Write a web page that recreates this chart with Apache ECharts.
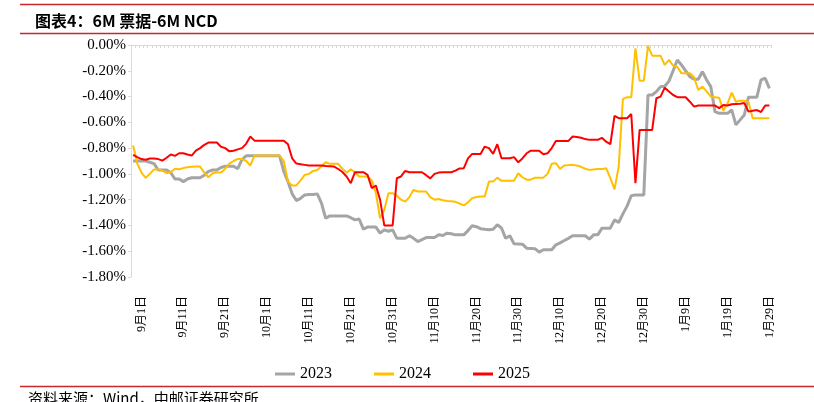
<!DOCTYPE html>
<html><head><meta charset="utf-8">
<script src="https://cdn.jsdelivr.net/npm/echarts@6/dist/echarts.min.js"></script>
<style>html,body{margin:0;padding:0;background:#fff}#c{width:814px;height:402px}</style>
</head><body><div id="c"></div>
<script>
// Categories: daily dates from 8月30日 to 1月29日
const firstDate = { month: 8, day: 30 };
const dayCount = 153;
const categories = [];
for (let i = 0; i < dayCount; i++) {
  const d = new Date(2023, firstDate.month - 1, firstDate.day + i);
  categories.push((d.getMonth() + 1) + '月' + d.getDate() + '日');
}
const seriesNames = ['2023', '2024', '2025'];
const yTickMin = -1.8, yTickMax = 0, yTickStep = 0.2;

const values2023 = [
-0.90,-0.90,-0.90,-0.90,-0.91,-0.92,-0.97,-0.97,-0.97,-0.99,
-1.04,-1.04,-1.06,-1.04,-1.03,-1.03,-1.03,-1.01,-0.98,-0.97,
-0.97,-0.95,-0.94,-0.94,-0.94,-0.96,-0.89,-0.86,-0.86,-0.86,
-0.86,-0.86,-0.86,-0.86,-0.86,-0.86,-0.98,-1.06,-1.155,-1.207,
-1.19,-1.163,-1.16,-1.16,-1.155,-1.227,-1.344,-1.326,-1.326,-1.326,
-1.326,-1.326,-1.34,-1.357,-1.35,-1.429,-1.413,-1.413,-1.413,-1.46,
-1.434,-1.445,-1.434,-1.50,-1.50,-1.50,-1.48,-1.50,-1.525,-1.51,
-1.494,-1.494,-1.494,-1.473,-1.478,-1.46,-1.465,-1.473,-1.473,-1.473,
-1.44,-1.403,-1.41,-1.425,-1.43,-1.434,-1.43,-1.395,-1.42,-1.50,
-1.48,-1.543,-1.544,-1.545,-1.576,-1.578,-1.58,-1.607,-1.589,-1.589,
-1.589,-1.55,-1.535,-1.517,-1.50,-1.48,-1.48,-1.48,-1.48,-1.506,
-1.473,-1.473,-1.421,-1.421,-1.421,-1.357,-1.377,-1.31,-1.25,-1.17,
-1.163,-1.163,-1.163,-0.388,-0.388,-0.362,-0.323,-0.32,-0.28,-0.20,
-0.116,-0.155,-0.20,-0.246,-0.266,-0.266,-0.207,-0.271,-0.323,-0.517,
-0.53,-0.53,-0.53,-0.504,-0.62,-0.581,-0.543,-0.405,-0.405,-0.405,
-0.271,-0.258,-0.336
];
const values2024 = [
-0.78,-0.92,-0.99,-1.03,-1.00,-0.965,-0.965,-0.975,-0.995,-0.985,
-0.961,-0.964,-0.955,-0.948,-0.945,-0.943,-0.943,-0.99,-1.026,-0.995,
-0.99,-0.99,-0.96,-0.92,-0.90,-0.884,-0.884,-0.90,-0.935,-0.858,
-0.858,-0.858,-0.858,-0.858,-0.858,-0.858,-0.90,-1.06,-1.09,-1.09,
-1.05,-1.008,-1.0,-0.977,-0.97,-0.94,-0.91,-0.922,-0.922,-0.922,
-0.96,-0.99,-0.965,-0.987,-1.021,-1.021,-1.021,-1.05,-1.15,-1.344,
-1.279,-1.15,-1.15,-1.17,-1.20,-1.215,-1.18,-1.124,-1.137,-1.137,
-1.137,-1.18,-1.20,-1.195,-1.205,-1.21,-1.213,-1.217,-1.23,-1.245,
-1.22,-1.188,-1.18,-1.176,-1.176,-1.06,-1.06,-1.029,-1.054,-1.054,
-1.054,-1.054,-0.995,-1.026,-1.045,-1.045,-1.029,-1.029,-1.029,-1.0,
-0.922,-0.917,-0.961,-0.935,-0.932,-0.93,-0.935,-0.945,-0.96,-0.969,
-0.965,-0.963,-0.963,-0.956,-1.033,-1.12,-0.943,-0.42,-0.405,-0.405,
-0.026,-0.277,-0.277,-0.008,-0.083,-0.083,-0.083,-0.155,-0.116,-0.16,
-0.17,-0.22,-0.22,-0.22,-0.25,-0.349,-0.323,-0.36,-0.40,-0.405,
-0.41,-0.51,-0.452,-0.37,-0.44,-0.433,-0.433,-0.44,-0.568,-0.568,
-0.568,-0.568,-0.568
];
const values2025 = [
-0.853,-0.87,-0.885,-0.89,-0.88,-0.88,-0.885,-0.897,-0.875,-0.85,
-0.86,-0.84,-0.84,-0.85,-0.858,-0.82,-0.80,-0.775,-0.757,-0.757,
-0.757,-0.79,-0.80,-0.825,-0.82,-0.81,-0.80,-0.767,-0.71,-0.742,
-0.742,-0.742,-0.742,-0.742,-0.742,-0.742,-0.742,-0.77,-0.88,-0.92,
-0.925,-0.93,-0.935,-0.935,-0.935,-0.935,-0.938,-0.94,-0.943,-0.962,
-0.985,-1.02,-1.072,-0.987,-0.987,-0.987,-1.008,-1.11,-1.09,-1.20,
-1.40,-1.40,-1.40,-1.034,-1.02,-0.977,-0.987,-0.987,-0.987,-0.987,
-1.01,-1.035,-1.0,-0.99,-0.987,-0.987,-0.987,-0.975,-0.958,-0.956,
-0.88,-0.845,-0.845,-0.845,-0.788,-0.80,-0.845,-0.77,-0.878,-0.878,
-0.878,-0.87,-0.91,-0.88,-0.84,-0.82,-0.82,-0.82,-0.848,-0.84,
-0.80,-0.744,-0.744,-0.744,-0.744,-0.71,-0.713,-0.72,-0.73,-0.736,
-0.736,-0.736,-0.72,-0.75,-0.77,-0.55,-0.568,-0.568,-0.568,-0.535,
-1.072,-0.659,-0.659,-0.659,-0.659,-0.413,-0.40,-0.331,-0.36,-0.388,
-0.405,-0.405,-0.405,-0.44,-0.478,-0.47,-0.47,-0.47,-0.47,-0.47,
-0.49,-0.465,-0.47,-0.46,-0.457,-0.455,-0.45,-0.517,-0.51,-0.505,
-0.52,-0.47,-0.47
];
const seriesValues = [values2023, values2024, values2025];
const seriesColors = ['#A5A5A5', '#FFC000', '#FF0000'];
const seriesWidths = [3, 2, 2];

const chart = echarts.init(document.getElementById('c'), null, { renderer: 'canvas' });
const axisGray = '#D9D9D9';
const serif = '"Liberation Serif", "Noto Sans CJK SC", serif';
const lineRed = '#C8282D';

chart.setOption({
  animation: false,
  backgroundColor: '#fff',
  title: {
    text: '图表4：6M 票据-6M NCD',
    left: 30, top: 8,
    textStyle: { fontFamily: '"Noto Sans CJK SC", sans-serif', fontSize: 16, fontWeight: 'bold', color: '#000' }
  },
  legend: {
    data: seriesNames.map((n) => ({ name: n, icon: 'rect' })),
    left: 270, top: 361,
    itemWidth: 20, itemHeight: 3, itemGap: 42,
    textStyle: { fontFamily: serif, fontSize: 16, color: '#000' }
  },
  grid: { left: 131, right: 42.5, top: 45, bottom: 125 },
  xAxis: [
    {
      type: 'category', data: categories, boundaryGap: true, position: 'bottom',
      axisLine: { show: false, onZero: false }, axisTick: { show: false },
      axisLabel: {
        rotate: 90, margin: 19, fontSize: 12, color: '#000', fontFamily: serif,
        interval: (idx) => (idx - 2) % 10 === 0
      },
      splitLine: { show: false }
    },
    {
      type: 'category', data: categories, boundaryGap: true, position: 'top',
      axisLine: { show: true, onZero: false, lineStyle: { color: axisGray, width: 1 } },
      axisTick: { show: true, inside: true, interval: 0, length: 3, lineStyle: { color: axisGray } },
      axisLabel: { show: false }, splitLine: { show: false }
    }
  ],
  yAxis: {
    type: 'value', min: yTickMin, max: yTickMax, interval: yTickStep,
    axisLine: { show: true, onZero: false, lineStyle: { color: axisGray } },
    axisTick: { show: true, length: 3, lineStyle: { color: axisGray } },
    splitLine: { show: false },
    axisLabel: {
      margin: 5, fontSize: 15, color: '#000', fontFamily: serif,
      formatter: (v) => (Math.abs(v) < 1e-9 ? 0 : v).toFixed(2) + '%'
    }
  },
  series: seriesNames.map((name, k) => ({
    name, type: 'line', xAxisIndex: 0, data: seriesValues[k],
    symbol: 'none', smooth: false, z: 2 + k,
    lineStyle: { color: seriesColors[k], width: seriesWidths[k] },
    itemStyle: { color: seriesColors[k] }
  })),
  graphic: [
    { type: 'line', shape: { x1: 20, y1: 4.5, x2: 814, y2: 4.5 }, style: { stroke: lineRed, lineWidth: 1.5 } },
    { type: 'line', shape: { x1: 20, y1: 33.5, x2: 814, y2: 33.5 }, style: { stroke: lineRed, lineWidth: 1.5 } },
    { type: 'line', shape: { x1: 20, y1: 386.5, x2: 814, y2: 386.5 }, style: { stroke: lineRed, lineWidth: 1.5 } },
    { type: 'text', left: 28, top: 391, style: { text: '资料来源：Wind，中邮证券研究所', fontFamily: '"Noto Sans CJK SC", sans-serif', fontSize: 15, fill: '#000' } }
  ]
});
</script>
</body></html>
